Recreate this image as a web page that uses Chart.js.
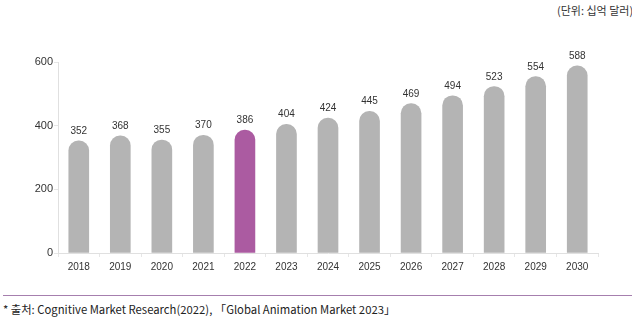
<!DOCTYPE html>
<html>
<head>
<meta charset="utf-8">
<script src="https://cdn.jsdelivr.net/npm/chart.js@4"></script>
<style>
  body { margin: 0; background: #fff; font-family: "Liberation Sans", "Noto Sans CJK KR", sans-serif; }
  #wrap { position: relative; width: 632px; height: 322px; overflow: hidden; }
  #unit { position: absolute; left: 557px; top: 2px; font-size: 11px; color: #333; white-space: nowrap; font-family: "Noto Sans CJK KR", sans-serif; }
  #chartBox { position: absolute; left: 0; top: 0; width: 632px; height: 280px; }
  #rule { position: absolute; left: 3px; right: 0; top: 295px; height: 1px; background: #a67fae; }
  #source { position: absolute; left: 3px; top: 301px; font-size: 11.3px; color: #222; white-space: nowrap; font-family: "Noto Sans CJK KR", sans-serif; }
</style>
</head>
<body>
<div id="wrap">
  <div id="unit">(단위: 십억 달러)</div>
  <div id="chartBox"><canvas id="marketChart" width="632" height="280"></canvas></div>
  <div id="rule"></div>
  <div id="source">* 출처: Cognitive Market Research(2022), 「Global Animation Market 2023」</div>
</div>
<script>
const years = ['2018', '2019', '2020', '2021', '2022', '2023', '2024', '2025', '2026', '2027', '2028', '2029', '2030'];
const marketSize = [352, 368, 355, 370, 386, 404, 424, 445, 469, 494, 523, 554, 588];
const highlightYear = '2022';
const yTicks = [0, 200, 400, 600];

const barColors = years.map(y => y === highlightYear ? '#ab5ba1' : '#b4b4b4');

// value labels above each bar
const valueLabels = {
    id: 'valueLabels',
    afterDatasetsDraw(chart) {
        const ctx = chart.ctx;
        const meta = chart.getDatasetMeta(0);
        ctx.save();
        ctx.font = '10px "Liberation Sans", Arial, sans-serif';
        ctx.fillStyle = '#333';
        ctx.textAlign = 'center';
        ctx.textBaseline = 'alphabetic';
        meta.data.forEach((bar, i) => {
            ctx.fillText(marketSize[i], bar.x, bar.y - 7);
        });
        ctx.restore();
    }
};

new Chart(document.getElementById('marketChart'), {
    type: 'bar',
    data: {
        labels: years,
        datasets: [{
            data: marketSize,
            backgroundColor: barColors,
            barThickness: 20,
            borderRadius: { topLeft: 10, topRight: 10 },
            borderSkipped: 'bottom'
        }]
    },
    options: {
        responsive: false,
        animation: false,
        layout: { padding: { top: 62, right: 34, left: 0, bottom: 0 } },
        plugins: { legend: { display: false }, tooltip: { enabled: false } },
        scales: {
            x: {
                afterFit: scale => { scale.height = 27; },
                grid: { display: true, drawOnChartArea: false, color: '#e6e6e6', tickLength: 4, offset: true },
                border: { color: '#e0e0e0' },
                ticks: { color: '#333', font: { size: 10, family: '"Liberation Sans", Arial, sans-serif' }, padding: 4 }
            },
            y: {
                min: 0,
                max: 600,
                afterFit: scale => { scale.width = 58; },
                afterBuildTicks: scale => { scale.ticks = yTicks.map(v => ({ value: v })); },
                grid: { display: true, drawOnChartArea: false, color: '#e6e6e6', tickLength: 4 },
                border: { color: '#e0e0e0' },
                ticks: { color: '#333', font: { size: 11, family: '"Liberation Sans", Arial, sans-serif' }, padding: 1 }
            }
        }
    },
    plugins: [valueLabels]
});
</script>
</body>
</html>
